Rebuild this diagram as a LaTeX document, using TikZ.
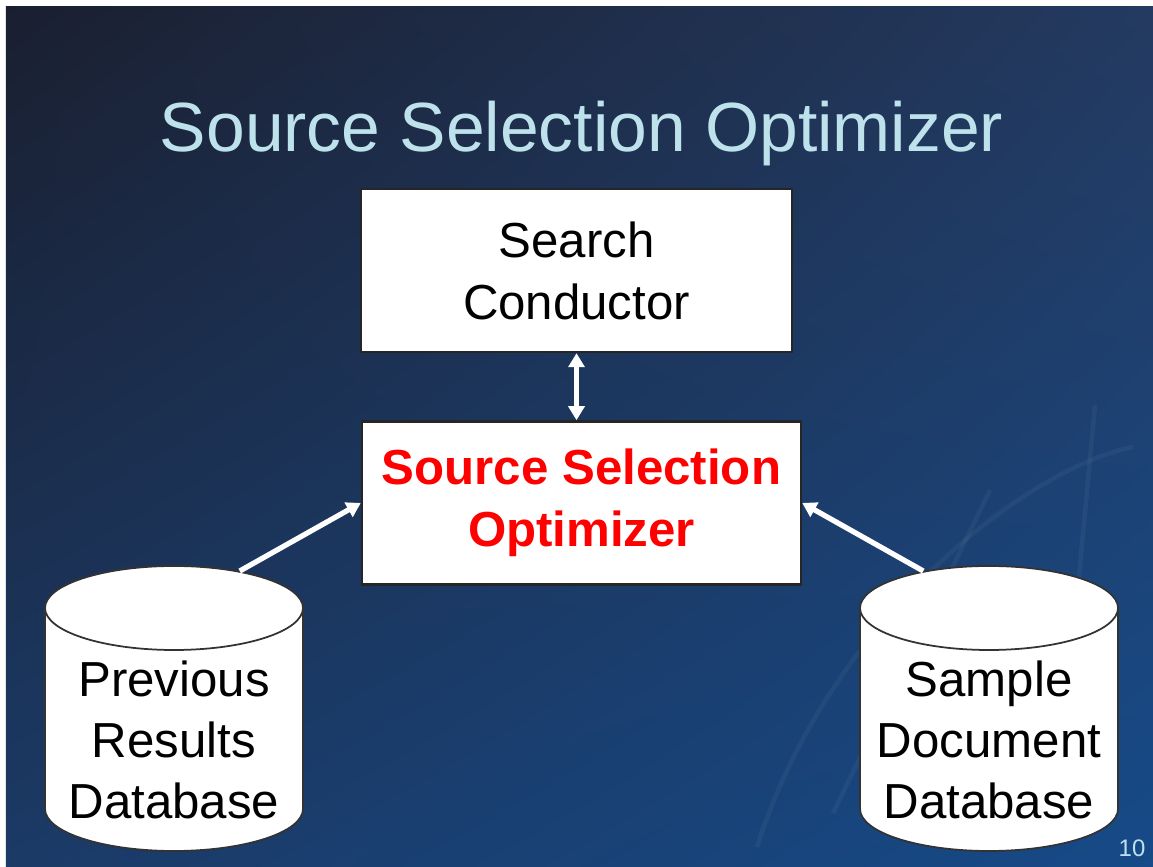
\documentclass[tikz,border=0pt]{standalone}
\usepackage{fontspec}
\setmainfont{Liberation Sans}
\usetikzlibrary{positioning,arrows.meta,shapes.geometric,shadings}
\definecolor{titleblue}{RGB}{190,226,236}
\definecolor{bgul}{RGB}{26,31,48}
\definecolor{bgur}{RGB}{36,58,96}
\definecolor{bgll}{RGB}{27,58,102}
\definecolor{bglr}{RGB}{22,74,136}

\begin{document}
\begin{tikzpicture}[auto, node distance=0.67cm,
                    box node/.style={rectangle,draw=black!85,line width=0.7pt,fill=white,inner sep=0pt,
                      minimum height=1.63cm,align=center,font=\fontsize{14}{17.6}\selectfont},
                    db top/.style={ellipse,draw=black!80,line width=0.5pt,fill=white,inner sep=0pt,
                      minimum width=2.58cm,minimum height=0.84cm},
                    db body/.style={fill=white,draw=black!80,line width=0.5pt},
                    db text/.style={align=center,inner sep=0pt,font=\fontsize{14}{17.4}\selectfont},
                    link/.style={draw=white,line width=1.5pt,-{Triangle[length=0.14cm,width=0.16cm]}},
                    deco/.style={draw=white,opacity=0.045,line width=1.3pt}]

  \useasboundingbox (0,0) rectangle (11.53,8.67);
  \fill[white] (0,0) rectangle (11.53,8.67);
  \shade[upper left=bgul,upper right=bgur,lower left=bgll,lower right=bglr] (0.06,0) rectangle (11.53,8.60);

  % faint background strokes
  \draw[deco] (10.95,4.62) -- (10.78,2.80);
  \draw[deco] (11.33,4.20) .. controls (10.3,4.0) and (8.3,2.5) .. (7.57,0.20);
  \draw[deco] (9.90,3.77) -- (8.33,0.54);

  \node[anchor=base,font=\fontsize{19.8}{24}\selectfont,text=titleblue] (title) at (5.815,7.15) {Source Selection Optimizer};

  \node[box node,minimum width=4.31cm] (search) at (5.765,5.965) {Search\\Conductor};
  \node[box node,minimum width=4.39cm,text=red,font=\bfseries\fontsize{14}{17.6}\selectfont] (sso)
       [below=0.67cm of search,xshift=0.05cm] {Source Selection\\Optimizer};

  % previous results database
  \filldraw[db body] (0.45,2.59) -- (0.45,0.58) arc[start angle=180,end angle=360,x radius=1.29cm,y radius=0.42cm] -- (3.03,2.59);
  \node[db top] (prevtop) at (1.74,2.59) {};
  \node[db text] (prevdb) at (1.74,1.27) {Previous\\Results\\Database};

  % sample document database
  \filldraw[db body] (8.60,2.59) -- (8.60,0.58) arc[start angle=180,end angle=360,x radius=1.29cm,y radius=0.42cm] -- (11.18,2.59);
  \node[db top] (samptop) at (9.89,2.59) {};
  \node[db text] (sampdb) at (9.89,1.27) {Sample\\Document\\Database};

  \node[font=\fontsize{6.8}{8}\selectfont,text=titleblue] (pagenum) at (11.32,0.19) {10};

  \draw[link,{Triangle[length=0.14cm,width=0.16cm]}-{Triangle[length=0.14cm,width=0.16cm]}] (search) -- (search |- sso.north);
  \draw[link] (prevtop) -- (sso.west);
  \draw[link] (samptop) -- (sso.east);

\end{tikzpicture}
\end{document}
